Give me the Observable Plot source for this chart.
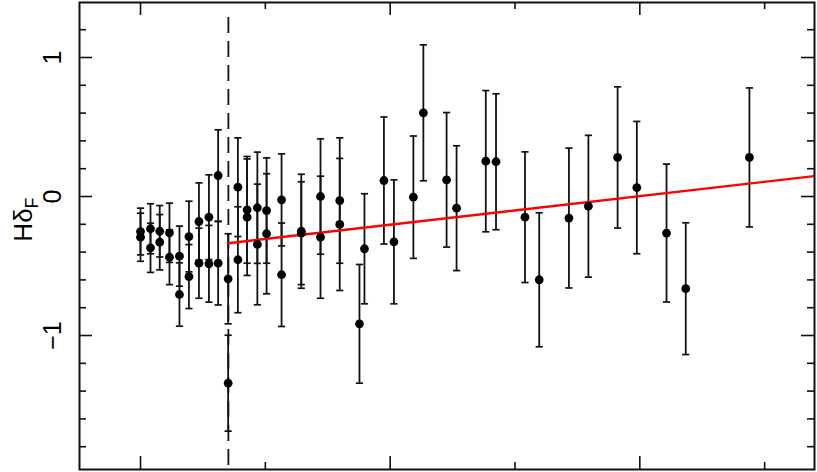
<!DOCTYPE html>
<html><head><meta charset="utf-8">
<script src="https://cdn.jsdelivr.net/npm/d3@7"></script>
<script src="https://cdn.jsdelivr.net/npm/@observablehq/plot@0.6"></script>
<style>body{margin:0;background:#fff} #chart svg{display:block}</style>
</head><body><div id="chart"></div>
<script>
// measured points (x in arbitrary axis units; unlabeled axis)
const xValues = [9.000,9.000,9.040,9.040,9.077,9.077,9.116,9.116,9.156,9.156,
  9.194,9.194,9.234,9.234,9.274,9.274,9.311,9.311,9.351,9.351,
  9.390,9.390,9.427,9.427,9.468,9.468,9.505,9.505,9.565,9.565,
  9.644,9.644,9.721,9.721,9.798,9.798,9.877,9.897,9.975,10.015,
  10.093,10.133,10.226,10.266,10.383,10.424,10.540,10.597,10.716,10.794,
  10.911,10.988,11.107,11.184,11.439];
const yValues = [-0.252,-0.293,-0.232,-0.369,-0.250,-0.329,-0.261,-0.437,-0.429,-0.705,
  -0.288,-0.576,-0.180,-0.480,-0.149,-0.484,0.151,-0.480,-0.592,-1.343,
  0.067,-0.455,-0.096,-0.149,-0.081,-0.345,-0.101,-0.268,-0.024,-0.563,
  -0.250,-0.264,0.000,-0.293,-0.029,-0.201,-0.916,-0.376,0.115,-0.326,
  -0.005,0.602,0.120,-0.084,0.254,0.250,-0.149,-0.599,-0.155,-0.070,
  0.281,0.064,-0.263,-0.663,0.281];
const yErrors = [0.168,0.173,0.180,0.177,0.185,0.199,0.213,0.197,0.216,0.228,
  0.254,0.230,0.278,0.252,0.305,0.276,0.329,0.300,0.324,0.345,
  0.355,0.381,0.384,0.419,0.400,0.434,0.379,0.432,0.331,0.372,
  0.410,0.370,0.415,0.439,0.451,0.475,0.427,0.396,0.457,0.446,
  0.440,0.489,0.484,0.449,0.508,0.489,0.470,0.482,0.503,0.510,
  0.508,0.476,0.496,0.474,0.500];
const fitX = [9.352, 11.70];
const fitY = [-0.336, 0.147];
const cutX = [9.352];
const yMajorTicks = [-1, 0, 1];
const yTickLabels = ["−1", "0", "1"];
const yMinorTicks = [-1.8,-1.6,-1.4,-1.2,-0.8,-0.6,-0.4,-0.2,0.2,0.4,0.6,0.8,1.2];
const xMajorTicks = [9, 10, 11];
const xMinorTicks = [9.5, 10.5, 11.5];
const yLabelMain = "Hδ";
const yLabelSub = "F";

const points = xValues.map((x, i) => ({x, y: yValues[i], lo: yValues[i] - yErrors[i], hi: yValues[i] + yErrors[i]}));
const fit = fitX.map((x, i) => ({x, y: fitY[i]}));

const W = 817, H = 472, mL = 79, mR = 3, mT = 2, mB = 3;
const fw = W - mL - mR, fh = H - mT - mB;
const ink = "#111";
const capSymbol = {draw(ctx, size) { const r = Math.sqrt(size / Math.PI); ctx.moveTo(-r, 0); ctx.lineTo(r, 0); }};
const font = "Liberation Sans, Arial, Helvetica, sans-serif";

const plot = Plot.plot({
  width: W, height: H,
  marginLeft: mL, marginRight: mR, marginTop: mT, marginBottom: mB,
  style: {fontFamily: font, background: "#fff"},
  x: {domain: [8.7556, 11.6997], axis: null},
  y: {domain: [-1.964, 1.3957], axis: null},
  marks: [
    Plot.ruleX(cutX, {x: d => d, stroke: ink, strokeWidth: 1.8, strokeDasharray: "16,8", insetTop: 15}),
    Plot.ruleX(points, {x: "x", y1: "lo", y2: "hi", stroke: ink, strokeWidth: 1.8}),
    Plot.dot(points, {x: "x", y: "lo", symbol: capSymbol, r: 3.6, stroke: ink, strokeWidth: 1.7, fill: "none"}),
    Plot.dot(points, {x: "x", y: "hi", symbol: capSymbol, r: 3.6, stroke: ink, strokeWidth: 1.7, fill: "none"}),
    Plot.line(fit, {x: "x", y: "y", stroke: "#ff0000", strokeWidth: 2.4, clip: true}),
    Plot.dot(points, {x: "x", y: "y", r: 4.4, fill: "#000", stroke: "none"}),
    // inward ticks on all four sides
    Plot.tickY(yMajorTicks, {y: d => d, insetRight: fw - 13, stroke: ink, strokeWidth: 1.6}),
    Plot.tickY(yMinorTicks, {y: d => d, insetRight: fw - 7, stroke: ink, strokeWidth: 1.6}),
    Plot.tickY(yMajorTicks, {y: d => d, insetLeft: fw - 13, stroke: ink, strokeWidth: 1.6}),
    Plot.tickY(yMinorTicks, {y: d => d, insetLeft: fw - 7, stroke: ink, strokeWidth: 1.6}),
    Plot.tickX(xMajorTicks, {x: d => d, insetTop: fh - 13, stroke: ink, strokeWidth: 1.6}),
    Plot.tickX(xMinorTicks, {x: d => d, insetTop: fh - 7, stroke: ink, strokeWidth: 1.6}),
    Plot.tickX(xMajorTicks, {x: d => d, insetBottom: fh - 13, stroke: ink, strokeWidth: 1.6}),
    Plot.tickX(xMinorTicks, {x: d => d, insetBottom: fh - 7, stroke: ink, strokeWidth: 1.6}),
    Plot.frame({stroke: ink, strokeWidth: 2}),
    Plot.text(yMajorTicks, {y: d => d, text: (d, i) => yTickLabels[i], frameAnchor: "left", dx: -27,
      rotate: -90, fontSize: 25, textAnchor: "middle", lineAnchor: "middle", fill: "#000"})
  ]
});

const svg = d3.select(plot);
const lab = svg.append("text")
  .attr("transform", `translate(32, ${mT + fh / 2 - 16}) rotate(-90)`)
  .attr("text-anchor", "middle")
  .attr("font-family", font)
  .attr("font-size", 26)
  .attr("fill", "#000");
lab.append("tspan").text(yLabelMain);
lab.append("tspan").attr("font-size", 18).attr("dy", 6).text(yLabelSub);

document.getElementById("chart").appendChild(plot);
</script>
</body></html>
